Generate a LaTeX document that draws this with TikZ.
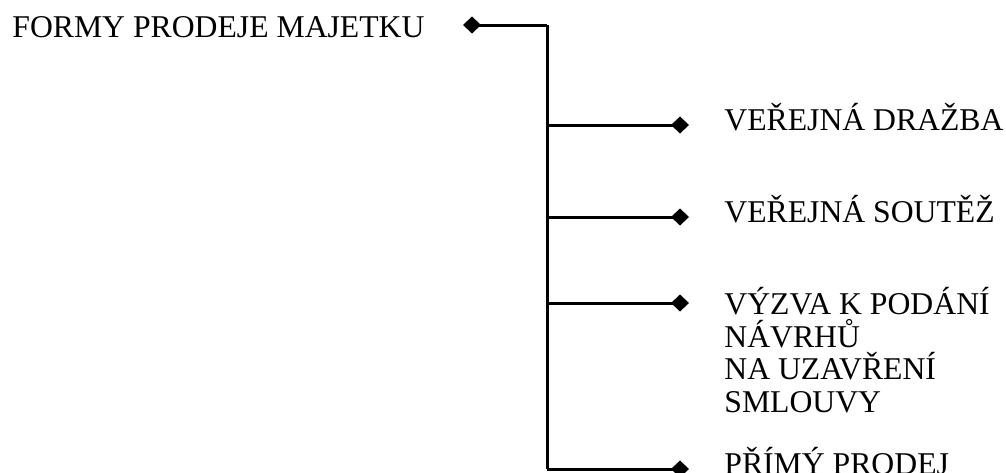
\documentclass[tikz,border=0pt]{standalone}
\usepackage{fontspec}
\setmainfont{Liberation Serif}
\usetikzlibrary{arrows.meta}

\begin{document}
\begin{tikzpicture}[x=0.5pt,y=-0.5pt,
    conn/.style={line width=1.5pt},
    dtip/.style={-{Diamond[length=9pt,width=8.5pt]}},
    lbl/.style={inner sep=0pt,anchor=base west,align=left,
      font=\fontsize{15.85}{16.25}\selectfont}]
  \useasboundingbox (0,0) rectangle (1006,472);

  % Root
  \node[lbl] (title) at (12,37) {FORMY PRODEJE MAJETKU};
  \coordinate (top) at (547,25);
  \coordinate (bottom) at (547,469);
  \coordinate (rootend) at (463,25);
  \draw[conn,dtip] (top) -- (rootend);
  \draw[conn] (top) -- (bottom);

  % Branches (text placed by the baseline of its last line)
  \foreach \i/\y/\b/\txt in {1/125/130/{VEŘEJNÁ DRAŽBA},
      2/217/222/{VEŘEJNÁ SOUTĚŽ},
      3/303/412/{VÝZVA K PODÁNÍ\\NÁVRHŮ\\NA UZAVŘENÍ\\SMLOUVY},
      4/469/474/{PŘÍMÝ PRODEJ}}{
    \coordinate (b\i) at (547,\y);
    \coordinate (e\i) at (689,\y);
    \node[lbl] (t\i) at (724,\b) {\txt};
    \draw[conn,dtip] (b\i) -- (e\i);
  }
\end{tikzpicture}
\end{document}
